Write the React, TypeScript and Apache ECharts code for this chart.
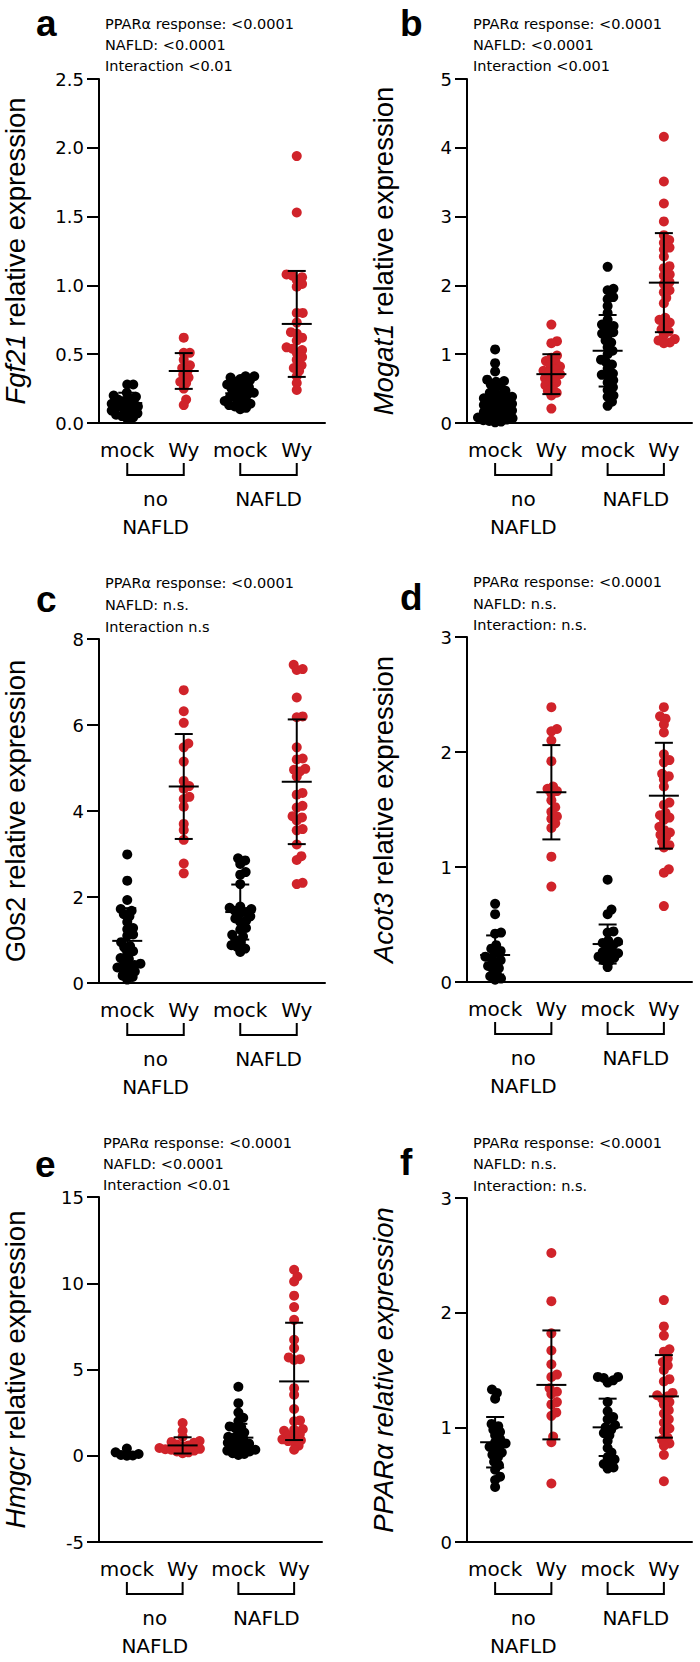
import React, { useEffect, useRef } from 'react';
import * as echarts from 'echarts';

// ---------- categories / labels ----------
const CATEGORIES = ['mock', 'Wy', 'mock', 'Wy'];
const GROUP_LABELS = ['no\nNAFLD', 'NAFLD'];

// ---------- panel a: Fgf21 ----------
const FGF21_NO_MOCK = [0.28, 0.28, 0.22, 0.2, 0.19, 0.18, 0.17, 0.16, 0.15, 0.14, 0.13, 0.12, 0.12, 0.11, 0.1, 0.09, 0.08, 0.07, 0.06, 0.05, 0.04, 0.03];
const FGF21_NO_WY = [0.62, 0.51, 0.51, 0.46, 0.42, 0.40, 0.38, 0.35, 0.33, 0.30, 0.29, 0.25, 0.17, 0.13];
const FGF21_NAFLD_MOCK = [0.34, 0.34, 0.33, 0.32, 0.31, 0.30, 0.29, 0.28, 0.27, 0.26, 0.25, 0.24, 0.23, 0.22, 0.21, 0.2, 0.19, 0.18, 0.17, 0.16, 0.15, 0.14, 0.13, 0.12, 0.11, 0.1];
const FGF21_NAFLD_WY = [1.94, 1.53, 1.08, 1.07, 1.06, 1.04, 1.01, 0.99, 0.80, 0.80, 0.73, 0.66, 0.65, 0.62, 0.60, 0.55, 0.54, 0.53, 0.51, 0.48, 0.46, 0.42, 0.40, 0.38, 0.34, 0.29, 0.24];
const FGF21_MEAN = [0.145, 0.378, 0.216, 0.72];
const FGF21_SD = [0.075, 0.13, 0.07, 0.385];

// ---------- panel b: Mogat1 ----------
const MOGAT1_NO_MOCK = [1.07, 0.87, 0.75, 0.63, 0.61, 0.6, 0.56, 0.54, 0.5, 0.47, 0.44, 0.41, 0.4, 0.38, 0.36, 0.35, 0.33, 0.31, 0.3, 0.28, 0.26, 0.25, 0.23, 0.21, 0.2, 0.18, 0.16, 0.15, 0.13, 0.11, 0.1, 0.08, 0.07, 0.05, 0.04, 0.03, 0.02, 0.01];
const MOGAT1_NO_WY = [1.43, 1.19, 1.16, 0.98, 0.95, 0.90, 0.88, 0.84, 0.82, 0.78, 0.76, 0.74, 0.71, 0.69, 0.65, 0.62, 0.59, 0.55, 0.52, 0.47, 0.44, 0.40, 0.21];
const MOGAT1_NAFLD_MOCK = [2.27, 1.95, 1.93, 1.83, 1.80, 1.70, 1.60, 1.50, 1.43, 1.41, 1.40, 1.32, 1.30, 1.28, 1.20, 1.17, 1.10, 1.05, 1.00, 0.92, 0.88, 0.85, 0.79, 0.72, 0.70, 0.68, 0.62, 0.59, 0.52, 0.48, 0.40, 0.38, 0.31, 0.25];
const MOGAT1_NAFLD_WY = [4.16, 3.51, 3.19, 2.93, 2.73, 2.66, 2.62, 2.55, 2.52, 2.42, 2.28, 2.25, 2.16, 2.14, 2.05, 2.02, 1.93, 1.90, 1.82, 1.74, 1.53, 1.50, 1.46, 1.44, 1.36, 1.33, 1.28, 1.22, 1.20, 1.17, 1.16];
const MOGAT1_MEAN = [0.33, 0.71, 1.05, 2.04];
const MOGAT1_SD = [0.26, 0.29, 0.52, 0.72];

// ---------- panel c: G0s2 ----------
const G0S2_NO_MOCK = [2.99, 2.38, 1.93, 1.72, 1.68, 1.60, 1.55, 1.42, 1.28, 1.25, 1.13, 1.10, 0.95, 0.86, 0.83, 0.74, 0.71, 0.58, 0.56, 0.47, 0.45, 0.42, 0.38, 0.36, 0.33, 0.27, 0.24, 0.17, 0.14, 0.08];
const G0S2_NO_WY = [6.81, 6.32, 6.05, 5.57, 5.48, 5.15, 4.70, 4.58, 4.52, 4.33, 4.28, 4.10, 3.70, 3.56, 3.33, 2.78, 2.55];
const G0S2_NAFLD_MOCK = [2.90, 2.85, 2.77, 2.58, 2.52, 2.30, 1.78, 1.75, 1.72, 1.68, 1.65, 1.62, 1.55, 1.50, 1.45, 1.42, 1.28, 1.24, 1.12, 1.08, 1.00, 0.95, 0.88, 0.84, 0.80, 0.72];
const G0S2_NAFLD_WY = [7.40, 7.30, 7.28, 6.64, 6.20, 6.18, 5.48, 5.22, 5.20, 4.98, 4.96, 4.92, 4.80, 4.42, 4.38, 4.12, 4.08, 3.88, 3.85, 3.78, 3.58, 3.55, 3.22, 2.95, 2.86, 2.33, 2.30];
const G0S2_MEAN = [0.98, 4.57, 1.65, 4.68];
const G0S2_SD = [0.76, 1.22, 0.64, 1.45];

// ---------- panel d: Acot3 ----------
const ACOT3_NO_MOCK = [0.68, 0.59, 0.43, 0.42, 0.32, 0.29, 0.27, 0.25, 0.22, 0.21, 0.19, 0.17, 0.14, 0.12, 0.11, 0.07, 0.05, 0.03, 0.02];
const ACOT3_NO_WY = [2.39, 2.20, 2.18, 2.10, 1.92, 1.70, 1.68, 1.66, 1.64, 1.58, 1.52, 1.48, 1.44, 1.42, 1.38, 1.34, 1.09, 0.83];
const ACOT3_NAFLD_MOCK = [0.89, 0.63, 0.59, 0.44, 0.43, 0.36, 0.35, 0.34, 0.32, 0.30, 0.27, 0.26, 0.25, 0.23, 0.22, 0.21, 0.19, 0.18, 0.13];
const ACOT3_NAFLD_WY = [2.39, 2.31, 2.29, 2.24, 2.17, 1.98, 1.93, 1.91, 1.81, 1.79, 1.76, 1.70, 1.56, 1.54, 1.47, 1.45, 1.43, 1.41, 1.35, 1.32, 1.30, 1.28, 1.26, 1.22, 1.19, 1.17, 0.98, 0.95, 0.66];
const ACOT3_MEAN = [0.235, 1.65, 0.33, 1.62];
const ACOT3_SD = [0.17, 0.41, 0.17, 0.46];

// ---------- panel e: Hmgcr ----------
const HMGCR_NO_MOCK = [0.42, 0.2, 0.1, 0.05, 0.02, 0.0];
const HMGCR_NO_WY = [1.9, 1.45, 1.1, 0.85, 0.8, 0.75, 0.65, 0.6, 0.55, 0.45, 0.4, 0.38, 0.35, 0.3, 0.25, 0.2, 0.15];
const HMGCR_NAFLD_MOCK = [4.0, 3.05, 2.5, 2.2, 2.0, 1.6, 1.7, 1.65, 1.35, 1.3, 1.1, 1.05, 1.0, 0.8, 0.75, 0.7, 0.55, 0.5, 0.45, 0.35, 0.3, 0.25, 0.15, 0.1, 0.05];
const HMGCR_NAFLD_WY = [10.78, 10.39, 10.10, 9.28, 8.62, 7.88, 6.72, 6.24, 5.70, 5.60, 5.55, 3.92, 3.54, 2.71, 2.05, 2.00, 1.55, 1.50, 1.45, 1.25, 1.20, 1.15, 0.95, 0.90, 0.85, 0.80, 0.58, 0.35];
const HMGCR_MEAN = [0.1, 0.6, 1.05, 4.31];
const HMGCR_SD = [0.1, 0.47, 0.8, 3.4];

// ---------- panel f: PPARα ----------
const PPARA_NO_MOCK = [1.33, 1.30, 1.25, 1.03, 1.01, 0.98, 0.96, 0.93, 0.90, 0.87, 0.86, 0.84, 0.83, 0.81, 0.78, 0.76, 0.74, 0.70, 0.67, 0.63, 0.57, 0.54, 0.48];
const PPARA_NO_WY = [2.52, 2.10, 1.82, 1.67, 1.55, 1.46, 1.44, 1.34, 1.31, 1.29, 1.22, 1.20, 1.13, 1.10, 0.92, 0.87, 0.51];
const PPARA_NAFLD_MOCK = [1.44, 1.44, 1.43, 1.41, 1.39, 1.22, 1.14, 1.09, 1.07, 1.02, 1.00, 0.98, 0.95, 0.93, 0.88, 0.82, 0.78, 0.74, 0.72, 0.69, 0.68, 0.65, 0.64];
const PPARA_NAFLD_WY = [2.11, 1.88, 1.80, 1.68, 1.66, 1.60, 1.57, 1.54, 1.50, 1.42, 1.40, 1.30, 1.28, 1.27, 1.25, 1.22, 1.20, 1.15, 1.12, 1.07, 1.04, 0.99, 0.97, 0.91, 0.89, 0.86, 0.84, 0.76, 0.53];
const PPARA_MEAN = [0.87, 1.37, 1.0, 1.27];
const PPARA_SD = [0.22, 0.475, 0.25, 0.36];

// ---------- statistics text ----------
const STATS_A = ['PPARα response: <0.0001', 'NAFLD: <0.0001', 'Interaction <0.01'];
const STATS_B = ['PPARα response: <0.0001', 'NAFLD: <0.0001', 'Interaction <0.001'];
const STATS_C = ['PPARα response: <0.0001', 'NAFLD: n.s.', 'Interaction n.s'];
const STATS_D = ['PPARα response: <0.0001', 'NAFLD: n.s.', 'Interaction: n.s.'];
const STATS_E = ['PPARα response: <0.0001', 'NAFLD: <0.0001', 'Interaction <0.01'];
const STATS_F = ['PPARα response: <0.0001', 'NAFLD: n.s.', 'Interaction: n.s.'];

// ---------- layout / style ----------
const RED = '#d0232a';
const BLACK = '#000000';
const FONT = 'DejaVu Sans';
const NAME_FONT = 'Liberation Sans';

const PANELS = [
  { letter: 'a', groups: [FGF21_NO_MOCK, FGF21_NO_WY, FGF21_NAFLD_MOCK, FGF21_NAFLD_WY], mean: FGF21_MEAN, sd: FGF21_SD, stats: STATS_A,
    yMin: 0, yMax: 2.5, yInterval: 0.5, dec: 1, name: '{i|Fgf21} relative expression', allItalic: false,
    grid: { left: 99, top: 79, width: 226, height: 344 }, letterPos: [36, 23], statsX: 105, statsY: [24, 45, 66] },
  { letter: 'b', groups: [MOGAT1_NO_MOCK, MOGAT1_NO_WY, MOGAT1_NAFLD_MOCK, MOGAT1_NAFLD_WY], mean: MOGAT1_MEAN, sd: MOGAT1_SD, stats: STATS_B,
    yMin: 0, yMax: 5, yInterval: 1, dec: 0, name: '{i|Mogat1} relative expression', allItalic: false,
    grid: { left: 467, top: 79, width: 225, height: 344 }, letterPos: [400, 23], statsX: 473, statsY: [24, 45, 66] },
  { letter: 'c', groups: [G0S2_NO_MOCK, G0S2_NO_WY, G0S2_NAFLD_MOCK, G0S2_NAFLD_WY], mean: G0S2_MEAN, sd: G0S2_SD, stats: STATS_C,
    yMin: 0, yMax: 8, yInterval: 2, dec: 0, name: 'G0s2 relative expression', allItalic: false,
    grid: { left: 99, top: 639, width: 226, height: 344 }, letterPos: [36, 599], statsX: 105, statsY: [583, 605, 627] },
  { letter: 'd', groups: [ACOT3_NO_MOCK, ACOT3_NO_WY, ACOT3_NAFLD_MOCK, ACOT3_NAFLD_WY], mean: ACOT3_MEAN, sd: ACOT3_SD, stats: STATS_D,
    yMin: 0, yMax: 3, yInterval: 1, dec: 0, name: '{i|Acot3} relative expression', allItalic: false,
    grid: { left: 467, top: 637, width: 225, height: 345 }, letterPos: [400, 597], statsX: 473, statsY: [582, 604, 625] },
  { letter: 'e', groups: [HMGCR_NO_MOCK, HMGCR_NO_WY, HMGCR_NAFLD_MOCK, HMGCR_NAFLD_WY], mean: HMGCR_MEAN, sd: HMGCR_SD, stats: STATS_E,
    yMin: -5, yMax: 15, yInterval: 5, dec: 0, name: '{i|Hmgcr} relative expression', allItalic: false,
    grid: { left: 97, top: 1197, width: 225, height: 345 }, letterPos: [35, 1164], statsX: 103, statsY: [1143, 1164, 1185] },
  { letter: 'f', groups: [PPARA_NO_MOCK, PPARA_NO_WY, PPARA_NAFLD_MOCK, PPARA_NAFLD_WY], mean: PPARA_MEAN, sd: PPARA_SD, stats: STATS_F,
    yMin: 0, yMax: 3, yInterval: 1, dec: 0, name: 'PPARα relative expression', allItalic: true,
    grid: { left: 467, top: 1198, width: 225, height: 344 }, letterPos: [400, 1162], statsX: 473, statsY: [1143, 1164, 1186] },
];

// beeswarm layout: horizontal offsets (in category units) so dots don't pile up
function swarmOffsets(values: number[], pxPerUnit: number, pxPerGroup: number, d: number): number[] {
  const order = values.map((_, i) => i).sort((a, b) => values[a] - values[b]);
  const placed: { x: number; y: number }[] = [];
  const out = new Array(values.length).fill(0);
  for (const i of order) {
    const y = values[i] * pxPerUnit;
    const cands = [0];
    for (const p of placed) {
      const dy = y - p.y;
      if (Math.abs(dy) < d) {
        const dx = Math.sqrt(d * d - dy * dy);
        cands.push(p.x + dx, p.x - dx);
      }
    }
    cands.sort((a, b) => Math.abs(a) - Math.abs(b) || b - a);
    let chosen = cands[cands.length - 1];
    for (const c of cands) {
      if (placed.every((p) => (c - p.x) ** 2 + (y - p.y) ** 2 >= d * d - 1e-6)) { chosen = c; break; }
    }
    placed.push({ x: chosen, y });
    out[i] = chosen / pxPerGroup;
  }
  return out;
}

const LINE = { stroke: BLACK, lineWidth: 2 };

function buildOption() {
  const grid: any[] = [];
  const xAxis: any[] = [];
  const yAxis: any[] = [];
  const series: any[] = [];
  const graphic: any[] = [];

  PANELS.forEach((p, i) => {
    grid.push({ ...p.grid, containLabel: false });
    xAxis.push({
      type: 'category', gridIndex: i, data: CATEGORIES,
      axisLine: { onZero: false, lineStyle: { color: BLACK, width: 2 } },
      axisTick: { alignWithLabel: true, interval: 0, length: 11, lineStyle: { color: BLACK, width: 2 } },
      axisLabel: { interval: 0, hideOverlap: false, color: BLACK, fontSize: 20, fontFamily: FONT, margin: 17 },
      splitLine: { show: false },
    });
    xAxis.push({ type: 'value', gridIndex: i, min: -0.5, max: 3.5, show: false, splitLine: { show: false } });
    yAxis.push({
      type: 'value', gridIndex: i, min: p.yMin, max: p.yMax, interval: p.yInterval,
      axisLine: { show: true, onZero: false, lineStyle: { color: BLACK, width: 2 } },
      axisTick: { show: true, length: 12, lineStyle: { color: BLACK, width: 2 } },
      splitLine: { show: false },
      axisLabel: { color: BLACK, fontSize: 18, fontFamily: FONT, margin: 15, formatter: (v: number) => v.toFixed(p.dec) },
      name: p.name, nameLocation: 'middle', nameRotate: 90, nameGap: 70,
      nameTextStyle: {
        color: BLACK, fontSize: 27.5, fontFamily: NAME_FONT, fontStyle: p.allItalic ? 'italic' : 'normal',
        rich: { i: { fontStyle: 'italic', fontSize: 27.5, fontFamily: NAME_FONT, color: BLACK } },
      },
    });

    const pxPerUnit = p.grid.height / (p.yMax - p.yMin);
    const pxPerGroup = p.grid.width / 4;
    const pts = p.groups.map((vals, g) => {
      const off = swarmOffsets(vals, pxPerUnit, pxPerGroup, 6);
      return vals.map((v, k) => [g + off[k], v]);
    });
    series.push({
      type: 'scatter', xAxisIndex: 2 * i + 1, yAxisIndex: i, symbolSize: 10, z: 2,
      itemStyle: { color: BLACK, opacity: 1 }, data: [...pts[0], ...pts[2]], silent: true,
    });
    series.push({
      type: 'scatter', xAxisIndex: 2 * i + 1, yAxisIndex: i, symbolSize: 10, z: 2,
      itemStyle: { color: RED, opacity: 1 }, data: [...pts[1], ...pts[3]], silent: true,
    });
    series.push({
      type: 'custom', xAxisIndex: 2 * i + 1, yAxisIndex: i, z: 5, clip: false, silent: true,
      dimensions: ['g', 'mean', 'sd'], encode: { x: 0, y: 1 },
      data: p.mean.map((m, g) => [g, m, p.sd[g]]),
      renderItem: (params: any, api: any) => {
        const g = api.value(0), m = api.value(1), s = api.value(2);
        const c = api.coord([g, m]);
        const t = api.coord([g, m + s]);
        const b = api.coord([g, m - s]);
        return {
          type: 'group', children: [
            { type: 'line', shape: { x1: c[0], y1: t[1], x2: c[0], y2: b[1] }, style: LINE },
            { type: 'line', shape: { x1: c[0] - 9, y1: t[1], x2: c[0] + 9, y2: t[1] }, style: LINE },
            { type: 'line', shape: { x1: c[0] - 9, y1: b[1], x2: c[0] + 9, y2: b[1] }, style: LINE },
            { type: 'line', shape: { x1: c[0] - 15, y1: c[1], x2: c[0] + 15, y2: c[1] }, style: LINE },
          ],
        };
      },
    });
    series.push({
      type: 'custom', xAxisIndex: 2 * i + 1, yAxisIndex: i, z: 5, clip: false, silent: true,
      dimensions: ['g0', 'g1', 'lab'], encode: { x: [0, 1] },
      data: [[0, 1, 0], [2, 3, 1]],
      renderItem: (params: any, api: any) => {
        const cs = params.coordSys;
        const bottom = cs.y + cs.height;
        const x0 = api.coord([api.value(0), p.yMin])[0];
        const x1 = api.coord([api.value(1), p.yMin])[0];
        const lab = GROUP_LABELS[api.value(2)];
        return {
          type: 'group', children: [
            { type: 'polyline', shape: { points: [[x0, bottom + 40], [x0, bottom + 52], [x1, bottom + 52], [x1, bottom + 40]] }, style: { ...LINE, fill: 'none' } },
            { type: 'text', style: { text: lab, x: (x0 + x1) / 2, y: bottom + 62, align: 'center', textAlign: 'center', verticalAlign: 'top', textVerticalAlign: 'top', fontSize: 20, fontFamily: FONT, fill: BLACK, lineHeight: 28 } },
          ],
        };
      },
    });

    graphic.push({
      type: 'text', x: p.letterPos[0], y: p.letterPos[1], silent: true,
      style: { text: p.letter, fontSize: 37, fontWeight: 'bold', fontFamily: NAME_FONT, fill: BLACK, align: 'left', textAlign: 'left', verticalAlign: 'middle', textVerticalAlign: 'middle' },
    });
    p.stats.forEach((s, k) => {
      graphic.push({
        type: 'text', x: p.statsX, y: p.statsY[k], silent: true,
        style: { text: s, fontSize: 14.5, fontFamily: FONT, fill: BLACK, align: 'left', textAlign: 'left', verticalAlign: 'middle', textVerticalAlign: 'middle' },
      });
    });
  });

  return { animation: false, backgroundColor: '#ffffff', grid, xAxis, yAxis, series, graphic };
}

export default function App() {
  const ref = useRef<HTMLDivElement>(null);
  useEffect(() => {
    document.body.style.margin = '0';
    const chart = echarts.init(ref.current as HTMLDivElement, null, { renderer: 'svg' });
    chart.setOption(buildOption() as any);
    return () => chart.dispose();
  }, []);
  return <div ref={ref} style={{ width: 700, height: 1662 }} />;
}
